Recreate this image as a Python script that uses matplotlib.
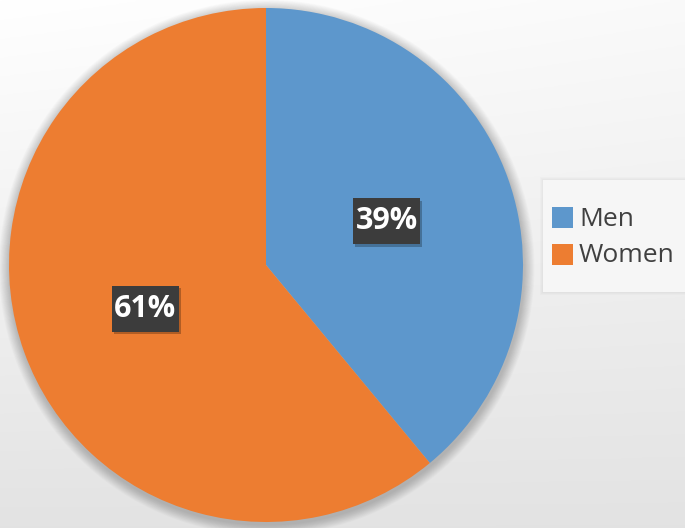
import numpy as np
import matplotlib
matplotlib.use("Agg")
import matplotlib.pyplot as plt
from matplotlib.patches import Circle, Rectangle
import matplotlib.patheffects as pe

categories = ["Men", "Women"]
shares = [39, 61]
colors = ["#5D97CC", "#ED7D31"]

W, H = 685, 528
fig = plt.figure(figsize=(W / 100, H / 100), dpi=100)

# background gradient
bg = fig.add_axes([0, 0, 1, 1])
yy, xx = np.mgrid[0:1:200j, 0:1:200j]
val = 1.0 - 0.11 * yy - 0.02 * xx * (1 - yy)
bg.imshow(np.dstack([val, val, val]), extent=[0, 1, 0, 1], aspect="auto",
          origin="upper", vmin=0, vmax=1)
bg.set_xlim(0, 1); bg.set_ylim(0, 1)
bg.axis("off")

# pie axes: center (266, 265) px from top, radius 257
cx, cy, r = 266, 265, 257
pad = 20
ax = fig.add_axes([(cx - r - pad) / W, (H - cy - r - pad) / H,
                   2 * (r + pad) / W, 2 * (r + pad) / H])

# soft shadow
for i in range(14):
    rad = 1.0 + 0.003 * (14 - i)
    ax.add_patch(Circle((0.003, -0.010), rad, color="black", alpha=0.016, lw=0, zorder=0))

wedges, texts, autotexts = ax.pie(
    shares, colors=colors, startangle=90, counterclock=False, radius=1.0,
    autopct="%d%%", pctdistance=0.5,
    wedgeprops=dict(linewidth=0, zorder=1),
    textprops=dict(color="white", fontsize=22, fontweight="bold", family="Open Sans"),
)
ax.set_xlim(-1 - pad / r, 1 + pad / r)
ax.set_ylim(-1 - pad / r, 1 + pad / r)
ax.set_aspect("equal")
ax.axis("off")

bw, bh = 67 / r, 46 / r
for t in autotexts:
    t.set_zorder(5)
    x, y = t.get_position()
    box = Rectangle((x - bw / 2, y - bh / 2), bw, bh, facecolor="#3C3C3C",
                    edgecolor="none", zorder=4)
    box.set_path_effects([
        pe.SimplePatchShadow(offset=(1.5, -1.5), shadow_rgbFace="black", alpha=0.25),
        pe.Normal()])
    ax.add_patch(box)

# legend box
lg = fig.add_axes([0, 0, 1, 1], facecolor="none")
lg.set_xlim(0, W); lg.set_ylim(H, 0)
lg.axis("off")
for k in range(4):
    lg.add_patch(Rectangle((543 - k, 180 - k), 150, 112 + 2 * k, facecolor="black",
                           alpha=0.015, lw=0))
lg.add_patch(Rectangle((543, 180), 150, 112, facecolor="#F6F6F6", edgecolor="none"))
ys = [218, 255]
for c, lab, y in zip(colors, categories, ys):
    lg.add_patch(Rectangle((552, y - 11), 21, 21, facecolor=c, edgecolor="none"))
    lg.text(579, y + 1, lab, fontsize=19, color="#404040", va="center", ha="left",
            family="Open Sans")

fig.savefig("out.png", dpi=100)
